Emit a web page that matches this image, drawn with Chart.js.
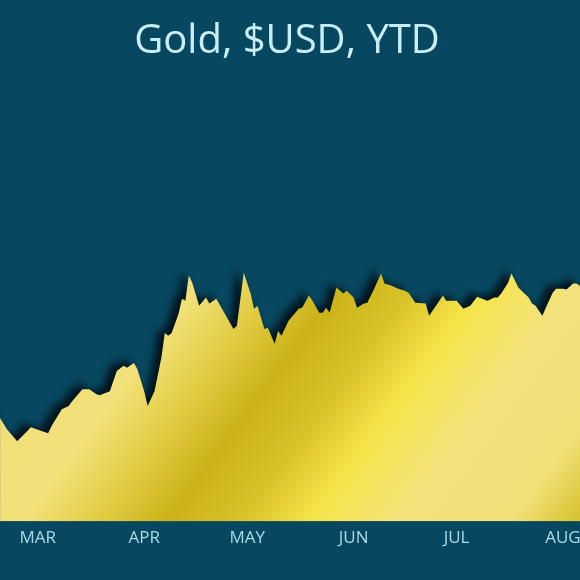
<!DOCTYPE html>
<html>
<head>
<meta charset="utf-8">
<script src="https://cdn.jsdelivr.net/npm/chart.js@4/dist/chart.umd.min.js"></script>
<style>
  html, body { margin: 0; padding: 0; background: #07475f; overflow: hidden; }
  #wrap { width: 580px; height: 580px; overflow: hidden; background: #07475f; }
  /* canvas is a bit wider than the window so the title sits where the original's does */
  #gold { margin-left: -13px; display: block; }
</style>
</head>
<body>
<div id="wrap"><canvas id="gold" width="600" height="580"></canvas></div>
<script>
// day of year (2024) for each reading
const days = [50, 52, 55, 59, 60, 64, 65, 68, 70, 71, 74, 76, 78, 79, 82, 84, 86, 87, 89, 90,
  92, 93, 95, 97, 98, 99, 100, 102, 103, 104, 105, 106, 108, 110, 111, 113, 115, 118, 119, 121,
  123, 124, 125, 127, 128, 130, 131, 132, 134, 137, 138, 140, 141, 143, 144, 145, 146, 148, 150, 151,
  153, 154, 156, 157, 159, 161, 162, 164, 166, 168, 169, 171, 174, 175, 177, 179, 180, 183, 185, 187,
  189, 191, 192, 194, 195, 196, 198, 199, 201, 204, 205, 206, 208, 209, 211, 212, 214, 215, 217, 218, 220]

// gold price, USD/oz
const prices = [2078, 2050, 2020, 2055, 2052, 2040, 2058, 2100, 2108, 2120, 2150, 2150, 2138, 2135, 2145, 2195, 2208, 2203, 2215, 2200,
  2145, 2108, 2145, 2228, 2290, 2283, 2290, 2338, 2375, 2370, 2433, 2415, 2358, 2378, 2363, 2375, 2345, 2300, 2308, 2440,
  2388, 2350, 2358, 2300, 2303, 2263, 2295, 2283, 2320, 2350, 2353, 2383, 2370, 2340, 2340, 2353, 2340, 2403, 2388, 2395,
  2378, 2353, 2363, 2365, 2400, 2438, 2413, 2408, 2400, 2395, 2390, 2365, 2363, 2333, 2358, 2383, 2370, 2370, 2350, 2358,
  2380, 2373, 2370, 2378, 2378, 2388, 2415, 2438, 2403, 2378, 2363, 2358, 2333, 2353, 2390, 2400, 2400, 2398, 2413, 2413, 2400]

const monthDays = [61, 92, 122, 153, 183, 214]
const monthNames = ['MAR', 'APR', 'MAY', 'JUN', 'JUL', 'AUG']

const points = days.map((d, i) => ({ x: d, y: prices[i] }))

// metallic look: diagonal bands running lower-left to upper-right
function goldFill(ctx) {
  const g = ctx.chart.ctx.createLinearGradient(13, 0, 673, 486)
  g.addColorStop(0, '#efdd72')
  g.addColorStop(0.40, '#f2e17a')
  g.addColorStop(0.47, '#e3cd45')
  g.addColorStop(0.54, '#cbb319')
  g.addColorStop(0.61, '#d8c128')
  g.addColorStop(0.68, '#f6e449')
  g.addColorStop(0.77, '#f3e27c')
  g.addColorStop(0.88, '#f1e078')
  g.addColorStop(0.95, '#d6bf28')
  g.addColorStop(1, '#d0b81f')
  return g
}

// dark drop shadow on the upper-left of the ridge
const edgeShadow = {
  id: 'edgeShadow',
  beforeDatasetsDraw(chart) {
    const c = chart.ctx
    c.save()
    c.shadowColor = 'rgba(0, 12, 20, 0.85)'
    c.shadowBlur = 7
    c.shadowOffsetX = -7
    c.shadowOffsetY = -4
  },
  afterDatasetsDraw(chart) {
    chart.ctx.restore()
  }
}

new Chart(document.getElementById('gold'), {
  type: 'line',
  data: {
    datasets: [{
      data: points,
      fill: 'origin',
      backgroundColor: goldFill,
      borderWidth: 0,
      pointRadius: 0,
      tension: 0
    }]
  },
  options: {
    responsive: false,
    animation: false,
    layout: { padding: { left: 0, right: 0, top: 0, bottom: 26 } },
    plugins: {
      legend: { display: false },
      tooltip: { enabled: false },
      title: {
        display: true,
        text: 'Gold, $USD, YTD',
        color: '#c8eef6',
        font: { family: 'Open Sans', size: 40, weight: 'normal' },
        padding: { top: 18, bottom: 8 }
      }
    },
    scales: {
      x: {
        type: 'linear',
        min: 46.2,
        max: 221,
        border: { display: false },
        grid: { display: false, drawTicks: false },
        afterBuildTicks: (scale) => { scale.ticks = monthDays.map(v => ({ value: v })) },
        ticks: {
          color: '#a9dbe9',
          font: { family: 'Open Sans', size: 17 },
          padding: 6,
          maxRotation: 0,
          callback: (v) => monthNames[monthDays.indexOf(v)]
        }
      },
      y: {
        display: false,
        min: 1820,
        max: 2935
      }
    }
  },
  plugins: [edgeShadow]
})
</script>
</body>
</html>
